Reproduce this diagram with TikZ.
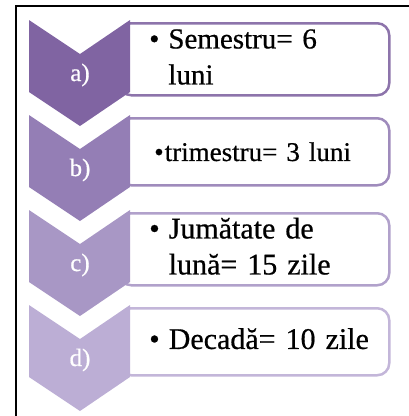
\documentclass[tikz,border=0pt]{standalone}
\usepackage{fontspec}
\setmainfont{Liberation Serif}[FakeBold=0.6]
\usepackage{xcolor}
\usetikzlibrary{positioning}

\definecolor{chevA}{RGB}{128,100,162}
\definecolor{chevB}{RGB}{148,126,181}
\definecolor{chevC}{RGB}{168,151,197}
\definecolor{chevD}{RGB}{188,174,213}

\begin{document}
\begin{tikzpicture}[
    x=1pt, y=-1pt,
    entry/.style={rectangle, draw=#1, fill=white, line width=2.5pt, rounded corners=12pt,
        minimum width=270pt, minimum height=67pt, text width=210pt, align=left,
        anchor=north west, inner xsep=30pt, inner ysep=0pt, font=\fontsize{29}{36}\selectfont},
    tag/.style={text=white, font=\fontsize{25}{30}\selectfont}
]
    \useasboundingbox (0,0) rectangle (409,416);
    % frame
    \draw[line width=2pt] (16,416) -- (16,6) -- (409,6);

    % boxes
    \node[entry=chevA!90!white] (boxa) at (118,22)
        {\begin{tabular}{@{}l@{\hspace{9pt}}l@{}}•&Semestru= 6\\&luni\end{tabular}};
    \node[entry=chevB!90!white, font=\fontsize{27}{32}\selectfont] (boxb) at (118,117)
        {\mbox{\hspace{5pt}•\hspace{1pt}trimestru= 3 luni}};
    \node[entry=chevC!90!white, font=\fontsize{30}{36}\selectfont] (boxc) at (118,212)
        {\begin{tabular}{@{}l@{\hspace{9pt}}l@{}}•&Jumătate de\\&lună= 15 zile\end{tabular}};
    \node[entry=chevD!90!white, font=\fontsize{30}{36}\selectfont] (boxd) at (118,307)
        {\begin{tabular}{@{}l@{\hspace{9pt}}l@{}}•&Decadă= 10 zile\end{tabular}};

    % chevrons
    \fill[chevA] (29,20) -- (80,54) -- (130,20) -- (130,92) -- (80,126) -- (29,92) -- cycle;
    \fill[chevB] (29,115) -- (80,149) -- (130,115) -- (130,187) -- (80,221) -- (29,187) -- cycle;
    \fill[chevC] (29,210) -- (80,244) -- (130,210) -- (130,282) -- (80,316) -- (29,282) -- cycle;
    \fill[chevD] (29,305) -- (80,339) -- (130,305) -- (130,377) -- (80,411) -- (29,377) -- cycle;

    \node[tag] (taga) at (80,75) {a)};
    \node[tag] (tagb) at (80,170) {b)};
    \node[tag] (tagc) at (80,265) {c)};
    \node[tag] (tagd) at (80,360) {d)};
\end{tikzpicture}
\end{document}
